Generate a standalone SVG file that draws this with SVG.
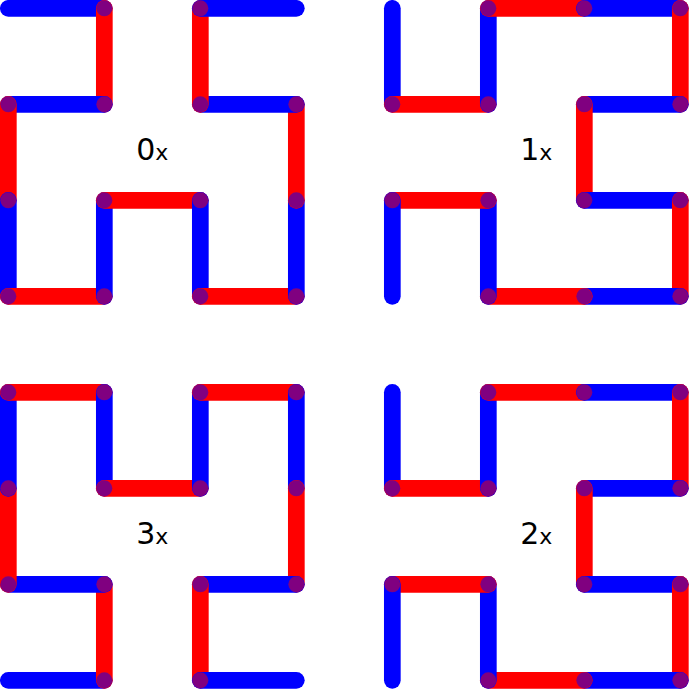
<svg xmlns="http://www.w3.org/2000/svg" width="689" height="689" viewBox="0 0 689 689">
<style>
.b{stroke:#0000ff;stroke-width:16.7;stroke-linecap:round;fill:none}
.r{stroke:#ff0000;stroke-width:16.7;stroke-linecap:round;fill:none}
.d{fill:#800080}
.lbl{font-family:"DejaVu Sans","Liberation Sans",sans-serif;font-size:30px;fill:#000;text-anchor:middle}
</style>
<rect width="689" height="689" fill="#fff"/>
<g id="connectors">
<g id="c0" transform="translate(8.33,8.33)">
<line class="b" x1="0" y1="0" x2="96" y2="0"/>
<line class="r" x1="96" y1="0" x2="96" y2="96"/>
<line class="b" x1="96" y1="96" x2="0" y2="96"/>
<line class="r" x1="0" y1="96" x2="0" y2="192"/>
<line class="b" x1="0" y1="192" x2="0" y2="288"/>
<line class="r" x1="0" y1="288" x2="96" y2="288"/>
<line class="b" x1="96" y1="288" x2="96" y2="192"/>
<line class="r" x1="96" y1="192" x2="192" y2="192"/>
<line class="b" x1="192" y1="192" x2="192" y2="288"/>
<line class="r" x1="192" y1="288" x2="288" y2="288"/>
<line class="b" x1="288" y1="288" x2="288" y2="192"/>
<line class="r" x1="288" y1="192" x2="288" y2="96"/>
<line class="b" x1="288" y1="96" x2="192" y2="96"/>
<line class="r" x1="192" y1="96" x2="192" y2="0"/>
<line class="b" x1="192" y1="0" x2="288" y2="0"/>
</g>
<g id="c1" transform="translate(392.33,8.33)">
<line class="b" x1="0" y1="0" x2="0" y2="96"/>
<line class="r" x1="0" y1="96" x2="96" y2="96"/>
<line class="b" x1="96" y1="96" x2="96" y2="0"/>
<line class="r" x1="96" y1="0" x2="192" y2="0"/>
<line class="b" x1="192" y1="0" x2="288" y2="0"/>
<line class="r" x1="288" y1="0" x2="288" y2="96"/>
<line class="b" x1="288" y1="96" x2="192" y2="96"/>
<line class="r" x1="192" y1="96" x2="192" y2="192"/>
<line class="b" x1="192" y1="192" x2="288" y2="192"/>
<line class="r" x1="288" y1="192" x2="288" y2="288"/>
<line class="b" x1="288" y1="288" x2="192" y2="288"/>
<line class="r" x1="192" y1="288" x2="96" y2="288"/>
<line class="b" x1="96" y1="288" x2="96" y2="192"/>
<line class="r" x1="96" y1="192" x2="0" y2="192"/>
<line class="b" x1="0" y1="192" x2="0" y2="288"/>
</g>
<g id="c2" transform="translate(392.33,392.33)">
<line class="b" x1="0" y1="0" x2="0" y2="96"/>
<line class="r" x1="0" y1="96" x2="96" y2="96"/>
<line class="b" x1="96" y1="96" x2="96" y2="0"/>
<line class="r" x1="96" y1="0" x2="192" y2="0"/>
<line class="b" x1="192" y1="0" x2="288" y2="0"/>
<line class="r" x1="288" y1="0" x2="288" y2="96"/>
<line class="b" x1="288" y1="96" x2="192" y2="96"/>
<line class="r" x1="192" y1="96" x2="192" y2="192"/>
<line class="b" x1="192" y1="192" x2="288" y2="192"/>
<line class="r" x1="288" y1="192" x2="288" y2="288"/>
<line class="b" x1="288" y1="288" x2="192" y2="288"/>
<line class="r" x1="192" y1="288" x2="96" y2="288"/>
<line class="b" x1="96" y1="288" x2="96" y2="192"/>
<line class="r" x1="96" y1="192" x2="0" y2="192"/>
<line class="b" x1="0" y1="192" x2="0" y2="288"/>
</g>
<g id="c3" transform="translate(8.33,392.33)">
<line class="b" x1="0" y1="288" x2="96" y2="288"/>
<line class="r" x1="96" y1="288" x2="96" y2="192"/>
<line class="b" x1="96" y1="192" x2="0" y2="192"/>
<line class="r" x1="0" y1="192" x2="0" y2="96"/>
<line class="b" x1="0" y1="96" x2="0" y2="0"/>
<line class="r" x1="0" y1="0" x2="96" y2="0"/>
<line class="b" x1="96" y1="0" x2="96" y2="96"/>
<line class="r" x1="96" y1="96" x2="192" y2="96"/>
<line class="b" x1="192" y1="96" x2="192" y2="0"/>
<line class="r" x1="192" y1="0" x2="288" y2="0"/>
<line class="b" x1="288" y1="0" x2="288" y2="96"/>
<line class="r" x1="288" y1="96" x2="288" y2="192"/>
<line class="b" x1="288" y1="192" x2="192" y2="192"/>
<line class="r" x1="192" y1="192" x2="192" y2="288"/>
<line class="b" x1="192" y1="288" x2="288" y2="288"/>
</g>
</g>
<g id="nodes0" transform="translate(8.33,8.33)">
<circle class="d" cx="96" cy="0" r="8"/><circle class="d" cx="96" cy="96" r="8"/><circle class="d" cx="0" cy="96" r="8"/><circle class="d" cx="0" cy="192" r="8"/><circle class="d" cx="0" cy="288" r="8"/><circle class="d" cx="96" cy="288" r="8"/><circle class="d" cx="96" cy="192" r="8"/><circle class="d" cx="192" cy="192" r="8"/><circle class="d" cx="192" cy="288" r="8"/><circle class="d" cx="288" cy="288" r="8"/><circle class="d" cx="288" cy="192" r="8"/><circle class="d" cx="288" cy="96" r="8"/><circle class="d" cx="192" cy="96" r="8"/><circle class="d" cx="192" cy="0" r="8"/>
</g>
<g id="nodes1" transform="translate(392.33,8.33)">
<circle class="d" cx="0" cy="96" r="8"/><circle class="d" cx="96" cy="96" r="8"/><circle class="d" cx="96" cy="0" r="8"/><circle class="d" cx="192" cy="0" r="8"/><circle class="d" cx="288" cy="0" r="8"/><circle class="d" cx="288" cy="96" r="8"/><circle class="d" cx="192" cy="96" r="8"/><circle class="d" cx="192" cy="192" r="8"/><circle class="d" cx="288" cy="192" r="8"/><circle class="d" cx="288" cy="288" r="8"/><circle class="d" cx="192" cy="288" r="8"/><circle class="d" cx="96" cy="288" r="8"/><circle class="d" cx="96" cy="192" r="8"/><circle class="d" cx="0" cy="192" r="8"/>
</g>
<g id="nodes2" transform="translate(392.33,392.33)">
<circle class="d" cx="0" cy="96" r="8"/><circle class="d" cx="96" cy="96" r="8"/><circle class="d" cx="96" cy="0" r="8"/><circle class="d" cx="192" cy="0" r="8"/><circle class="d" cx="288" cy="0" r="8"/><circle class="d" cx="288" cy="96" r="8"/><circle class="d" cx="192" cy="96" r="8"/><circle class="d" cx="192" cy="192" r="8"/><circle class="d" cx="288" cy="192" r="8"/><circle class="d" cx="288" cy="288" r="8"/><circle class="d" cx="192" cy="288" r="8"/><circle class="d" cx="96" cy="288" r="8"/><circle class="d" cx="96" cy="192" r="8"/><circle class="d" cx="0" cy="192" r="8"/>
</g>
<g id="nodes3" transform="translate(8.33,392.33)">
<circle class="d" cx="96" cy="288" r="8"/><circle class="d" cx="96" cy="192" r="8"/><circle class="d" cx="0" cy="192" r="8"/><circle class="d" cx="0" cy="96" r="8"/><circle class="d" cx="0" cy="0" r="8"/><circle class="d" cx="96" cy="0" r="8"/><circle class="d" cx="96" cy="96" r="8"/><circle class="d" cx="192" cy="96" r="8"/><circle class="d" cx="192" cy="0" r="8"/><circle class="d" cx="288" cy="0" r="8"/><circle class="d" cx="288" cy="96" r="8"/><circle class="d" cx="288" cy="192" r="8"/><circle class="d" cx="192" cy="192" r="8"/><circle class="d" cx="192" cy="288" r="8"/>
</g>
<g id="labels">
<text class="lbl" x="152.3" y="160">0<tspan font-size="22">x</tspan></text>
<text class="lbl" x="536.3" y="160">1<tspan font-size="22">x</tspan></text>
<text class="lbl" x="152.3" y="544">3<tspan font-size="22">x</tspan></text>
<text class="lbl" x="536.3" y="544">2<tspan font-size="22">x</tspan></text>
</g>
</svg>
